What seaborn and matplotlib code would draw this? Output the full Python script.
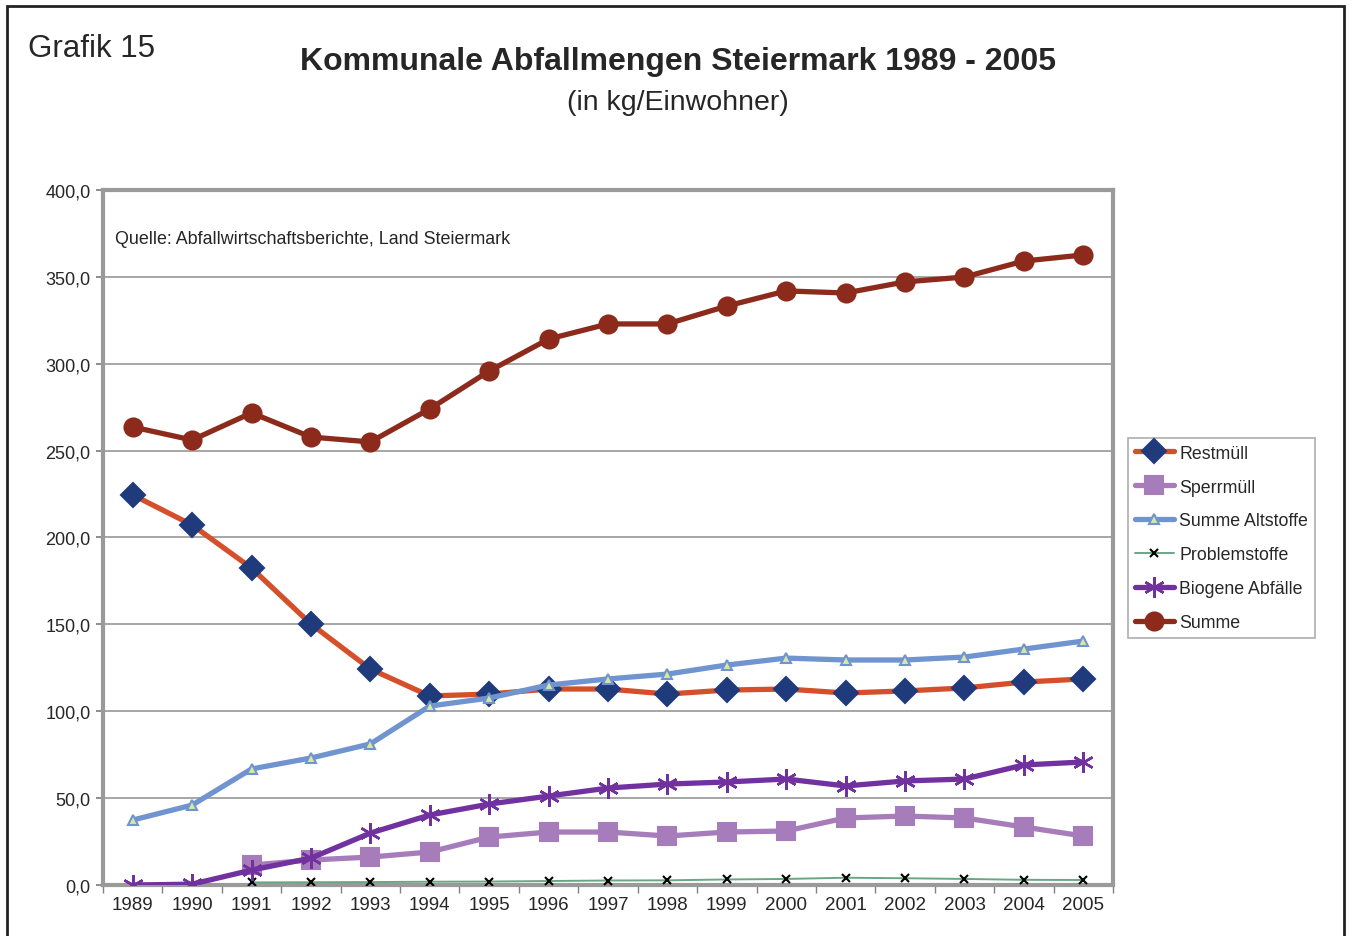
import numpy as np
import pandas as pd
import seaborn as sns
import matplotlib.pyplot as plt
from matplotlib.patches import Rectangle
from matplotlib.ticker import FuncFormatter, MultipleLocator

years = list(range(1989, 2006))
restmuell = [224.5, 207.2, 182.4, 150.2, 124.3, 108.8, 109.9, 112.8, 112.8, 109.9, 112.2, 112.8, 110.5, 111.7, 113.4, 116.8, 118.6]
sperrmuell = [np.nan, np.nan, 11.5, 14.4, 16.1, 19.0, 27.6, 30.5, 30.5, 28.2, 30.5, 31.1, 38.6, 39.7, 38.6, 33.4, 28.2]
altstoffe = [37.4, 46.0, 66.8, 73.1, 81.2, 103.0, 107.6, 115.1, 118.6, 121.4, 126.6, 130.6, 129.5, 129.5, 131.2, 135.8, 140.4]
problemstoffe = [np.nan, np.nan, 1.5, 1.6, 1.7, 1.9, 2.0, 2.3, 2.6, 2.7, 3.2, 3.5, 4.2, 3.9, 3.5, 3.0, 2.9]
biogene = [0.0, 0.5, 8.6, 15.5, 29.9, 40.3, 46.6, 51.2, 55.8, 58.1, 59.3, 61.0, 57.0, 59.9, 61.0, 69.1, 70.8]
summe = [263.6, 256.1, 271.7, 257.8, 255.0, 274.0, 295.8, 314.2, 322.9, 322.9, 333.2, 341.9, 340.7, 347.1, 349.9, 359.1, 362.6]

df = pd.DataFrame({"Jahr": years, "Restmüll": restmuell, "Sperrmüll": sperrmuell,
                   "Summe Altstoffe": altstoffe, "Problemstoffe": problemstoffe,
                   "Biogene Abfälle": biogene, "Summe": summe})
df_long = df.melt(id_vars="Jahr", var_name="Art", value_name="kg").dropna()

sns.set_theme(style="white")
plt.rcParams["font.family"] = ["Liberation Sans", "DejaVu Sans"]

styles = {
    "Restmüll": dict(color="#d5502a", lw=3.8, marker="D", ms=12, mfc="#1f3b7c", mec="#1f3b7c", z=3),
    "Sperrmüll": dict(color="#a77cbb", lw=3.8, marker="s", ms=13, mfc="#a77cbb", mec="#a77cbb", z=3),
    "Summe Altstoffe": dict(color="#6f94d0", lw=3.8, marker="^", ms=7, mfc="#d8e8a0", mec="#6f94d0", z=4),
    "Problemstoffe": dict(color="#6aa683", lw=1.4, marker="x", ms=6, mfc="black", mec="black", z=3),
    "Biogene Abfälle": dict(color="#7132a0", lw=3.8, marker=(6, 2, 0), ms=15, mfc="#7132a0", mec="#7132a0", z=3),
    "Summe": dict(color="#8c2b1c", lw=3.8, marker="o", ms=13, mfc="#8c2b1c", mec="#8c2b1c", z=3),
}

fig = plt.figure(figsize=(13.52, 9.37), dpi=100)
ax = fig.add_axes([0.0762, 0.0544, 0.7470, 0.7418])

handles = []
for name, st in styles.items():
    sub = df_long[df_long["Art"] == name]
    sns.lineplot(data=sub, x="Jahr", y="kg", ax=ax, color=st["color"], lw=st["lw"],
                 marker=st["marker"], markersize=st["ms"], markerfacecolor=st["mfc"],
                 markeredgecolor=st["mec"], markeredgewidth=1.5 if name != "Biogene Abfälle" else 1.8,
                 zorder=st["z"], errorbar=None)
    handles.append(ax.lines[-1])

ax.set_xlim(1988.5, 2005.5)
ax.set_ylim(0, 400)
ax.set_xticks(years)
ax.set_xticklabels([str(y) for y in years], fontsize=13.5)
ax.xaxis.set_minor_locator(MultipleLocator(1, offset=0.5))
ax.tick_params(axis="x", which="major", length=0, pad=8)
ax.tick_params(axis="x", which="minor", length=6, color="#808080", direction="out", bottom=True)
ax.set_yticks(np.arange(0, 401, 50))
ax.yaxis.set_major_formatter(FuncFormatter(lambda v, p: f"{v:.1f}".replace(".", ",")))
ax.tick_params(axis="y", length=5, color="#808080", direction="out", left=True, labelsize=13, pad=4)
ax.grid(axis="y", color="#a6a6a6", lw=1.4)
ax.set_axisbelow(True)
for s in ax.spines.values():
    s.set_color("#9a9a9a")
    s.set_linewidth(3)
ax.set_xlabel("")
ax.set_ylabel("")

ax.text(0.012, 0.93, "Quelle: Abfallwirtschaftsberichte, Land Steiermark", transform=ax.transAxes,
        fontsize=12.9, ha="left", va="center")

leg = fig.legend(handles, list(styles.keys()), loc="upper left", bbox_to_anchor=(0.834, 0.532),
                 fontsize=12.8, frameon=True, fancybox=False, edgecolor="#9a9a9a",
                 handlelength=2.2, handletextpad=0.3, borderpad=0.4, labelspacing=0.95,
                 borderaxespad=0)
leg.get_frame().set_linewidth(1.2)

fig.text(0.021, 0.948, "Grafik 15", fontsize=22.5, ha="left", va="center")
fig.text(0.5015, 0.934, "Kommunale Abfallmengen Steiermark 1989 - 2005", fontsize=23,
         fontweight="bold", ha="center", va="center")
fig.text(0.5015, 0.890, "(in kg/Einwohner)", fontsize=20.5, ha="center", va="center")

fig.patches.append(Rectangle((0.0052, -0.05), 0.989, 1.0425, transform=fig.transFigure,
                             fill=False, edgecolor="#222222", lw=2))

fig.savefig("out.png", dpi=100, facecolor="white")
